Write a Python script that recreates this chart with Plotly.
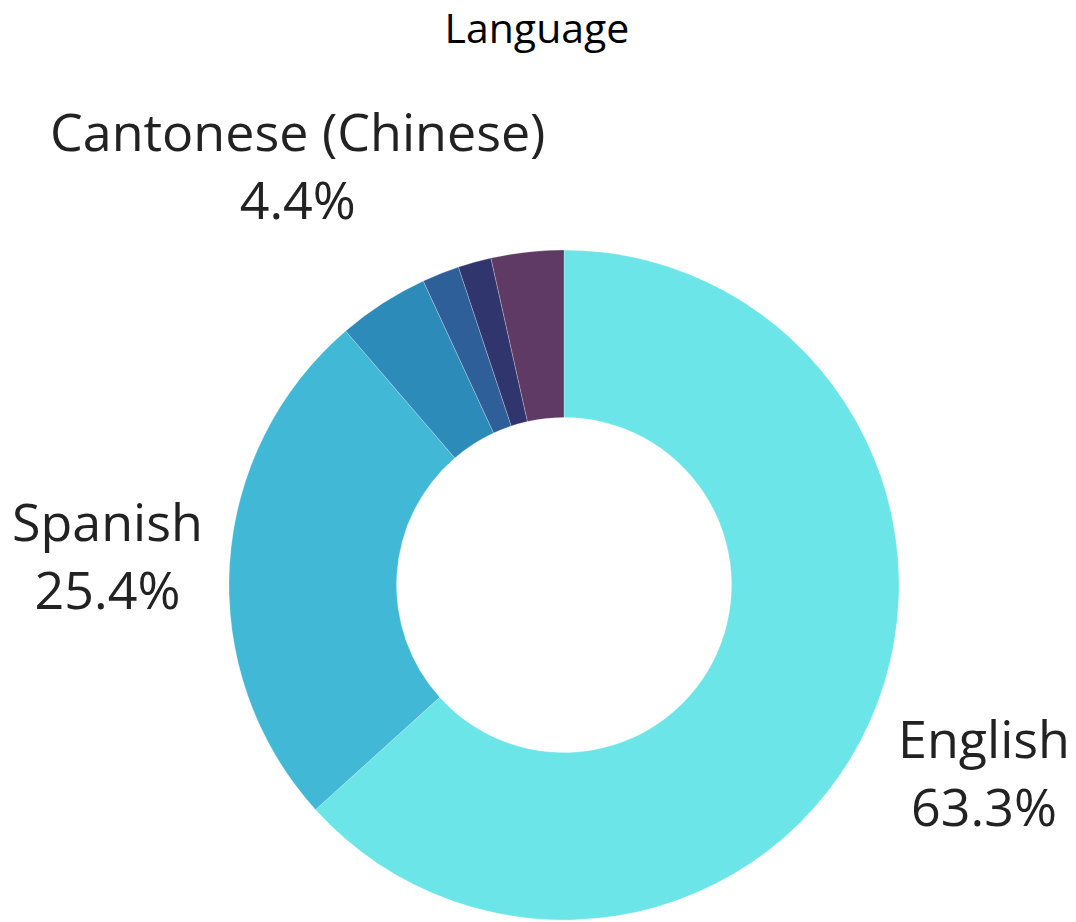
import plotly.graph_objects as go

languages = ["English", "Spanish", "Cantonese (Chinese)", "Vietnamese", "Tagalog", "Other"]
shares = [63.3, 25.4, 4.4, 1.8, 1.6, 3.5]
colors = ["#6CE5E8", "#41B8D5", "#2D8BBA", "#2F5F98", "#31356E", "#5E3A65"]
show_label = [True, True, True, False, False, False]
# label placement (paper fractions) for the shown labels
label_pos = {"English": (0.9071, 0.1719), "Spanish": (0.0926, 0.4069), "Cantonese (Chinese)": (0.2686, 0.8300)}

W, H = 1076, 922

fig = go.Figure(go.Pie(
    labels=languages,
    values=shares,
    hole=0.5,
    sort=False,
    direction="clockwise",
    rotation=0,
    marker=dict(colors=colors, line=dict(color="rgba(255,255,255,0.5)", width=0.5)),
    textinfo="none",
    showlegend=False,
    domain=dict(x=[221 / W, 891 / W], y=[10 / H, 680 / H]),
))

total = sum(shares)
annotations = []
for lab, val, show in zip(languages, shares, show_label):
    if not show:
        continue
    x, y = label_pos[lab]
    annotations.append(dict(
        text=f"{lab}<br>{val / total * 100:.1f}%",
        x=x, y=y, xref="paper", yref="paper", xanchor="center", yanchor="middle",
        showarrow=False, align="center",
        font=dict(family="Open Sans", size=52, color="#222222"),
    ))

fig.update_layout(
    width=W, height=H,
    margin=dict(l=0, r=0, t=0, b=0),
    paper_bgcolor="white",
    plot_bgcolor="white",
    title=dict(text="Language", x=0.4916, xanchor="center", y=0.993, yanchor="top",
               font=dict(family="Open Sans", size=41, color="#000000")),
    annotations=annotations,
)

fig.write_html("out.html")
